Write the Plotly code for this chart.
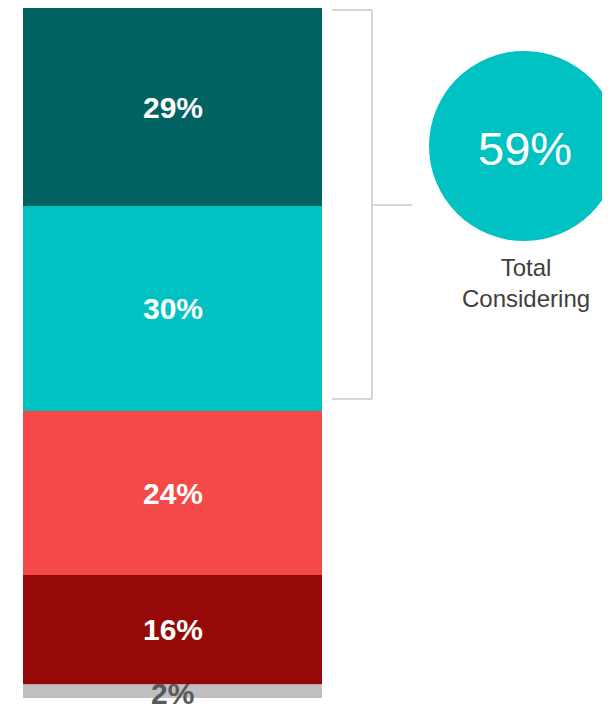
import plotly.graph_objects as go

# segments, bottom to top
labels = ["2%", "16%", "24%", "30%", "29%"]
values = [2, 16, 24, 30, 29]
colors = ["#BFBFBF", "#950909", "#F54848", "#00C2C2", "#006361"]
text_colors = ["#595959", "white", "white", "white", "white"]

total_label = "59%"
total_caption = "Total<br>Considering"

W, H = 610, 704
OFF = 8  # page body margin, the figure starts 8px in
bar_top, bar_bottom = 8, 698
px_per_unit = (bar_bottom - bar_top) / sum(values)
FONT = "Liberation Sans, Arial"

fig = go.Figure()

base = 0
for lab, val, col, tc in zip(labels, values, colors, text_colors):
    fig.add_trace(go.Bar(
        x=[172.5], y=[val], base=[base], width=[299],
        marker=dict(color=col, line=dict(width=0)),
        showlegend=False, hoverinfo="skip",
    ))
    mid = base + val / 2
    fig.add_annotation(
        x=172.5, y=mid, xref="x", yref="y", text="<b>%s</b>" % lab,
        showarrow=False, yshift=-2 if val < 5 else 0,
        font=dict(family=FONT, size=30, color=tc),
    )
    base += val

# bracket around the top two segments (pixel coords on y2)
line = dict(color="#C8C8C8", width=1.5)
fig.add_shape(type="line", xref="x", yref="y2", x0=332, x1=372, y0=10, y1=10, line=line)
fig.add_shape(type="line", xref="x", yref="y2", x0=372, x1=372, y0=10, y1=399, line=line)
fig.add_shape(type="line", xref="x", yref="y2", x0=332, x1=372, y0=399, y1=399, line=line)
fig.add_shape(type="line", xref="x", yref="y2", x0=372, x1=412, y0=205, y1=205, line=line)

# circle
fig.add_shape(type="circle", xref="x", yref="y2", x0=429, x1=619, y0=51, y1=241,
              fillcolor="#00C2C2", line=dict(width=0), layer="below")
fig.add_annotation(x=525, y=148, xref="x", yref="y2", text=total_label, showarrow=False,
                   font=dict(family=FONT, size=47, color="white"))
fig.add_annotation(x=526, y=283, xref="x", yref="y2", text=total_caption, showarrow=False,
                   font=dict(family=FONT, size=24, color="#404040"))

fig.update_layout(
    width=W, height=H,
    margin=dict(l=0, r=0, t=0, b=0),
    paper_bgcolor="white", plot_bgcolor="white",
    barmode="overlay",
    xaxis=dict(range=[OFF, W + OFF], visible=False, fixedrange=True),
    yaxis=dict(range=[-(H + OFF - bar_bottom) / px_per_unit,
                      sum(values) + (bar_top - OFF) / px_per_unit],
               visible=False, fixedrange=True),
    yaxis2=dict(range=[H + OFF, OFF], overlaying="y", visible=False, fixedrange=True),
)

fig.write_html("out.html")
